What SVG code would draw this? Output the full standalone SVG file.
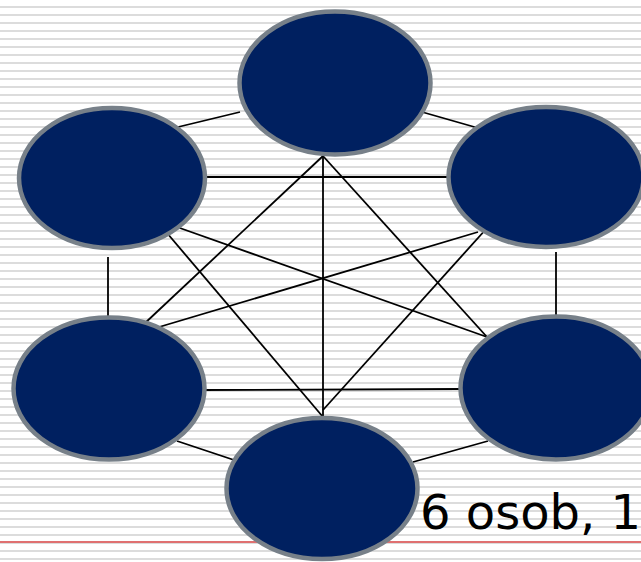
<svg xmlns="http://www.w3.org/2000/svg" width="641" height="562" viewBox="0 0 641 562">
<defs>
<pattern id="stripes" x="0" y="0" width="8" height="8" patternUnits="userSpaceOnUse">
<rect x="0" y="6" width="8" height="2" fill="#dcdcdc"/>
</pattern>
<style>
.node{fill:#002060;stroke:#778089;stroke-width:4.5}
.edge{stroke:#000;stroke-width:1.8;fill:none}
.lbl{font-family:"DejaVu Sans",Verdana,sans-serif;font-size:48px;fill:#000}
</style>
</defs>
<rect width="641" height="562" fill="#fff"/>
<rect width="641" height="562" fill="url(#stripes)"/>
<rect x="0" y="541" width="641" height="2" fill="#e07070"/>
<g id="connectors">
<line class="edge" x1="178" y1="127" x2="240" y2="112"/>
<line class="edge" x1="415" y1="110" x2="478" y2="128"/>
<line class="edge" x1="323" y1="156" x2="144" y2="324"/>
<line class="edge" x1="323" y1="156" x2="487" y2="337"/>
<line class="edge" x1="323" y1="156" x2="323" y2="417"/>
<line class="edge" x1="205" y1="177" x2="448" y2="177"/>
<line class="edge" x1="108" y1="257" x2="108" y2="317"/>
<line class="edge" x1="177" y1="227" x2="487" y2="337"/>
<line class="edge" x1="167" y1="233" x2="323" y2="417"/>
<line class="edge" x1="478" y1="232" x2="149" y2="330"/>
<line class="edge" x1="556" y1="252" x2="556" y2="317"/>
<line class="edge" x1="487" y1="228" x2="323" y2="410"/>
<line class="edge" x1="205" y1="390" x2="460" y2="389"/>
<line class="edge" x1="177" y1="441" x2="240" y2="462"/>
<line class="edge" x1="488" y1="441" x2="413" y2="462"/>
</g>
<g id="node-top"><ellipse class="node" cx="335" cy="83" rx="95.5" ry="71.5"/></g>
<g id="node-upper-left"><ellipse class="node" cx="112" cy="178" rx="93" ry="70"/></g>
<g id="node-upper-right"><ellipse class="node" cx="546" cy="177" rx="97.5" ry="70"/></g>
<g id="node-lower-left"><ellipse class="node" cx="109" cy="388.5" rx="95.5" ry="71"/></g>
<g id="node-lower-right"><ellipse class="node" cx="556" cy="388" rx="95.5" ry="71.5"/></g>
<g id="node-bottom"><ellipse class="node" cx="322" cy="488.5" rx="95.5" ry="70.5"/></g>
<text class="lbl" x="420" y="529">6 osob, 1</text>
</svg>
